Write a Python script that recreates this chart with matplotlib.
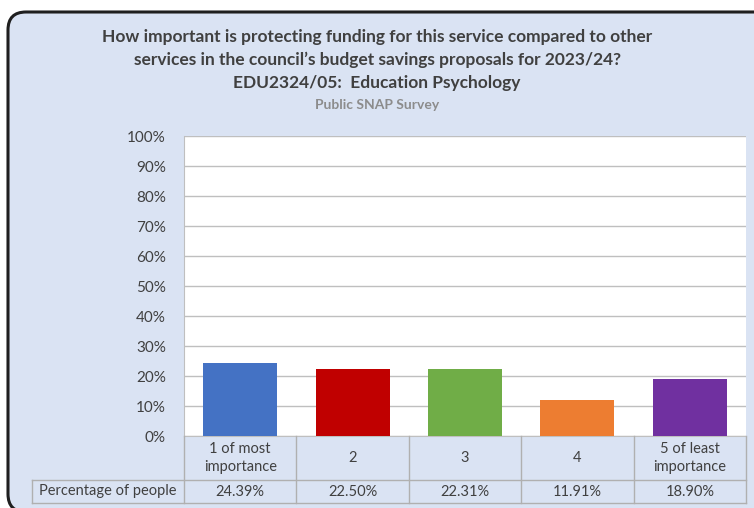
import matplotlib
matplotlib.use('Agg')
import matplotlib.pyplot as plt
from matplotlib.patches import FancyBboxPatch
from matplotlib.ticker import PercentFormatter

# chart data
categories = ['1 of most\nimportance', '2', '3', '4', '5 of least\nimportance']
percentages = [24.39, 22.50, 22.31, 11.91, 18.90]
bar_colors = ['#4472c4', '#c00000', '#70ad47', '#ed7d31', '#7030a0']
row_label = 'Percentage of people'
title_lines = ['How important is protecting funding for this service compared to other',
               'services in the council\u2019s budget savings proposals for 2023/24?',
               'EDU2324/05:  Education Psychology']
subtitle = 'Public SNAP Survey'

bg = '#dae3f3'
text_col = '#404040'
grid_col = '#bfbfbf'
W, H = 754, 508

plt.rcParams['font.family'] = ['Lato', 'DejaVu Sans']

fig = plt.figure(figsize=(W / 100, H / 100), dpi=100)
fig.patch.set_facecolor('white')

# rounded outer border, drawn in pixel units on a full-figure axes
bax = fig.add_axes([0, 0, 1, 1], zorder=-5)
bax.set_xlim(0, W)
bax.set_ylim(H, 0)
bax.axis('off')
bax.add_patch(FancyBboxPatch((8, 12), 790, 500, boxstyle='round,pad=0,rounding_size=18',
                             facecolor=bg, edgecolor='#1f1f1f', linewidth=2.2,
                             clip_on=False))

# titles
y0 = 1 - 37 / H
for i, line in enumerate(title_lines):
    fig.text(0.5, y0 - i * 23 / H, line, ha='center', va='center',
             fontsize=12.5, fontweight='bold', color=text_col)
fig.text(0.5, 1 - 105 / H, subtitle, ha='center', va='center',
         fontsize=10, fontweight='bold', color='#8c8c8c')

# main plot area
left, right = 184 / W, 746 / W
top, bottom = 1 - 136 / H, 1 - 436 / H
ax = fig.add_axes([left, bottom, right - left, top - bottom])
ax.set_facecolor('white')
x = list(range(len(categories)))
ax.bar(x, percentages, width=0.66, color=bar_colors, zorder=3)
ax.set_xlim(-0.5, len(categories) - 0.5)
ax.set_ylim(0, 100)
ax.set_yticks(range(0, 101, 10))
ax.yaxis.set_major_formatter(PercentFormatter(decimals=0))
ax.tick_params(axis='y', length=0, pad=13, labelsize=11, labelcolor=text_col)
ax.tick_params(axis='x', length=0, labelbottom=False)
ax.grid(axis='y', color=grid_col, linewidth=1, zorder=0)
for side in ['top', 'right']:
    ax.spines[side].set_visible(False)
ax.spines['left'].set_color(grid_col)
ax.spines['bottom'].set_color(grid_col)

# data table below the plot
tab_bottom = 1 - 503 / H
tax = fig.add_axes([left, tab_bottom, right - left, bottom - tab_bottom])
tax.set_xlim(ax.get_xlim())
tax.set_ylim(0, 1)
tax.axis('off')
split = 1 - 44 / 67
x_lab = -0.5 - 152 / ((746 - 184) / len(categories))
line_kw = dict(color='#b0b0b0', linewidth=1, clip_on=False)
for b in [i - 0.5 for i in range(len(categories) + 1)]:
    tax.plot([b, b], [0, 1], **line_kw)
tax.plot([x_lab, x[-1] + 0.5], [split, split], **line_kw)
tax.plot([x_lab, x[-1] + 0.5], [0, 0], **line_kw)
tax.plot([x_lab, x_lab], [0, split], **line_kw)
for xi, cat, val in zip(x, categories, percentages):
    tax.text(xi, (1 + split) / 2, cat, ha='center', va='center',
             fontsize=10.5, color=text_col, linespacing=1.4)
    tax.text(xi, split / 2, f'{val:.2f}%', ha='center', va='center',
             fontsize=10.5, color=text_col)
tax.text((x_lab - 0.5) / 2, split / 2, row_label, ha='center', va='center',
         fontsize=10.5, color=text_col, clip_on=False)

fig.savefig('out.png', dpi=100, facecolor=fig.get_facecolor())
